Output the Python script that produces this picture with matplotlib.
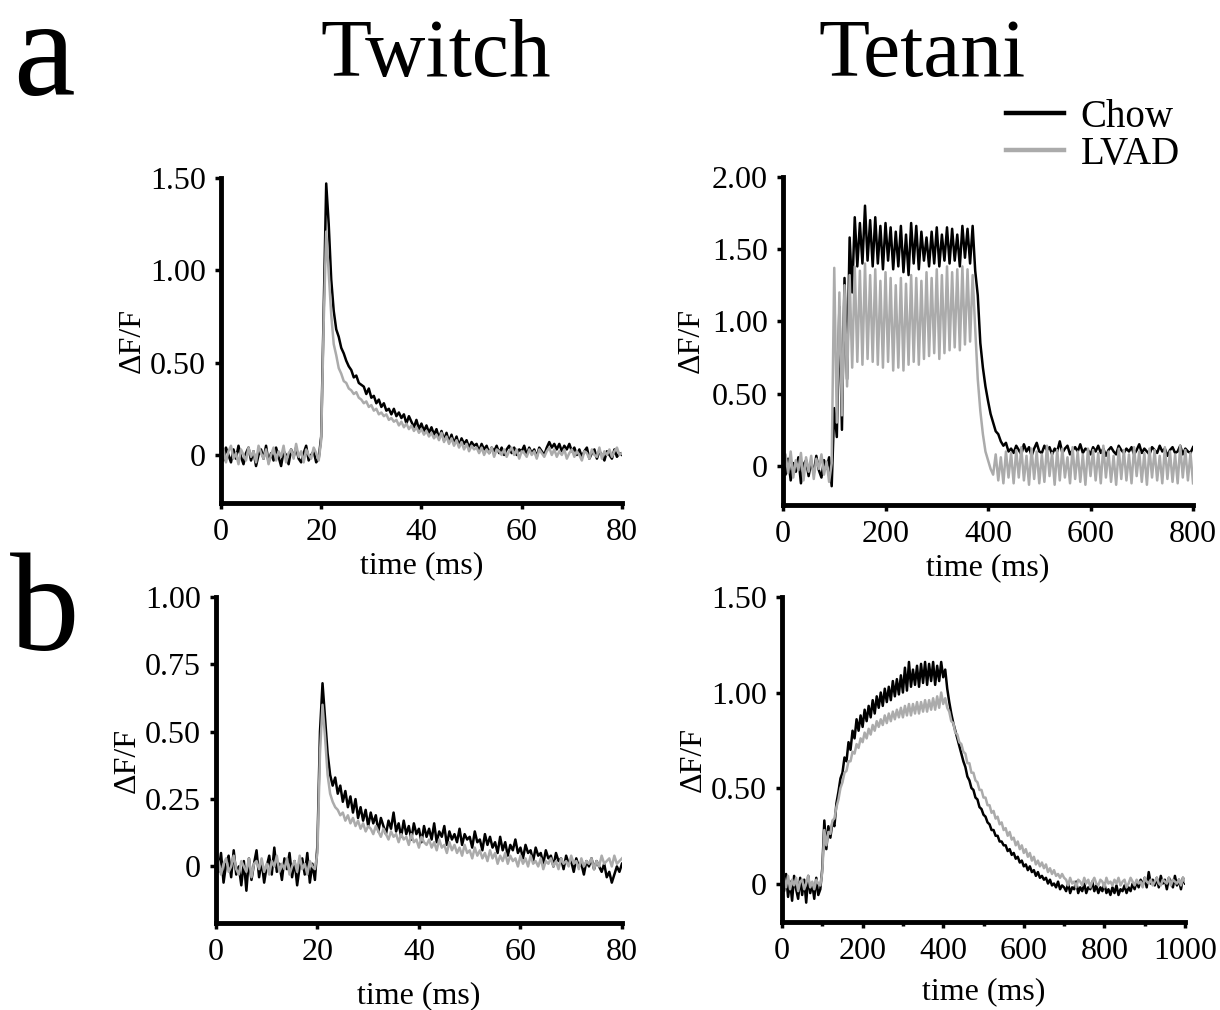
import numpy as np
import matplotlib
matplotlib.use("Agg")
import matplotlib.pyplot as plt
from matplotlib.ticker import FuncFormatter

plt.rcParams['font.family'] = ['Liberation Serif', 'DejaVu Serif']

# ---- data (dF/F in hundredths) ----
# twitch traces, sampled every 0.5 ms from 0 to 80 ms
twitch_a_chow = np.array([
    2, -3, 4, 0, -4, 3, -2, 5, -1, -5, 1, 4, -3, 2, -6, 0, 3, -2, 5, -4,
    1, -3, 4, -1, -6, 2, 0, -5, 3, -1, 4, -2, -4, 1, 5, -3, 0, 2, -4, -2,
    10, 80, 147, 125,
    95, 78, 68, 64, 58, 55, 51, 48, 46, 42,
    43, 39, 38, 37, 33, 36, 31, 32, 28, 30,
    26, 28, 24, 25, 22, 25, 21, 23, 20, 22,
    17, 21, 18, 15, 19, 14, 17, 13, 16, 12,
    15, 11, 14, 9, 13, 8, 12, 7, 11, 6,
    10, 5, 9, 6, 8, 4, 7, 5, 6, 2,
    6, 3, 5, 1, 4, 2, 5, 1, 4, 0,
    3, 5, 1, 4, 0, 3, 2, 5, 0, 4,
    1, 3, -1, 4, 2, 0, 4, 7, 4, 6,
    3, 6, 2, 5, 3, 6, 2, 4, 0, 3,
    -1, 2, 4, -2, 1, 3, -2, 2, 0, -3,
    2, 0, -2, 3, -1, 1, 0]) / 100
twitch_a_lvad = np.array([
    -1, 3, -4, 2, 5, -2, 1, -5, 3, 0, -3, 4, -1, 2, -4, 5, 1, -2, 3, -5,
    0, 4, -3, 2, -1, 5, -4, 1, 3, -2, 6, -1, 2, -4, 3, 0, -2, 4, 1, -3,
    8, 72, 121, 98,
    76, 60, 54, 47, 44, 40, 39, 36, 35, 33,
    34, 31, 30, 28, 29, 26, 27, 24, 25, 22,
    23, 21, 22, 19, 20, 18, 19, 16, 18, 15,
    17, 14, 16, 13, 15, 12, 14, 11, 13, 10,
    12, 9, 11, 8, 12, 7, 10, 6, 9, 5,
    8, 4, 7, 3, 6, 2, 5, 3, 4, 1,
    4, 0, 3, 1, 4, -1, 3, 2, 0, 3,
    -1, 2, 4, 0, 3, -2, 2, 1, -1, 3,
    0, 2, -2, 3, 1, -1, 2, 4, 0, 3,
    -1, 2, 0, 3, -2, 1, 3, -1, 2, 0,
    -3, 2, 1, -2, 3, 0, -1, 4, -2, 2,
    0, 3, -1, 2, 4, 0, 1]) / 100
twitch_b_chow = np.array([
    3, -2, 5, -6, 1, 4, -4, 6, -3, 0, -7, 2, -9, 3, -5, 1, 6, -4, 2, -6,
    0, 4, -3, 7, -2, 1, -5, 3, -1, 5, -4, 2, -7, 0, 3, -3, 5, -6, 1, -5,
    8, 50, 68, 55,
    42, 34, 30, 33, 27, 30, 24, 28, 22, 26,
    20, 25, 18, 22, 17, 21, 15, 20, 16, 19,
    13, 18, 15, 12, 17, 14, 20, 13, 16, 11,
    17, 12, 15, 10, 16, 12, 14, 9, 15, 11,
    14, 10, 16, 9, 13, 11, 15, 8, 13, 10,
    12, 9, 14, 8, 12, 10, 11, 7, 13, 9,
    10, 6, 12, 8, 11, 7, 9, 5, 11, 6,
    9, 4, 8, 6, 10, 5, 7, 3, 8, 5,
    6, 2, 7, 4, 5, 1, 6, 3, 4, 0,
    5, 2, 3, -1, 4, 1, 2, -2, 3, 0,
    1, -3, 2, 0, 3, -1, 2, 0, -2, 1,
    -4, -2, -6, -3, 0, -2, 1]) / 100
twitch_b_lvad = np.array([
    0, 2, -3, 1, 3, -2, 0, 4, -1, -3, 2, 0, -2, 3, -4, 1, 2, -1, 3, -2,
    1, -3, 2, 0, 4, -2, 1, -1, 3, -3, 0, 2, -2, 4, -1, 1, -3, 2, 0, -1,
    5, 42, 60, 48,
    34, 27, 24, 22, 21, 19, 20, 17, 19, 16,
    18, 15, 17, 14, 16, 13, 15, 14, 12, 15,
    13, 11, 14, 12, 10, 13, 11, 12, 9, 12,
    10, 11, 8, 12, 9, 10, 7, 11, 9, 8,
    10, 7, 9, 6, 10, 7, 8, 5, 9, 6,
    8, 5, 7, 4, 8, 5, 6, 3, 7, 4,
    6, 3, 5, 2, 6, 3, 5, 1, 4, 2,
    5, 1, 4, 2, 3, 0, 4, 1, 3, 0,
    4, 1, 2, 0, 3, -1, 2, 1, 3, 0,
    2, -1, 3, 1, 2, 0, 4, 1, 2, -1,
    3, 0, 2, 1, 3, -1, 2, 0, 4, 1,
    2, 3, 0, 4, 1, 2, 3]) / 100

# tetani traces, sampled every 5 ms
tetani_a_chow = np.array([
    3, -6, 5, -10, 2, -4, 6, -12, 1, 4, -7, 3, -5, 7, -3, -8, 4, -2, 6, -14,
    40, 20, 110, 25, 130, 60, 158, 120, 172, 138, 168, 140, 180, 142, 170, 138, 172, 140, 166, 136,
    168, 142, 165, 136, 162, 138, 166, 134, 160, 132, 168, 140, 166, 136, 162, 142, 158, 138, 162, 140,
    165, 138, 160, 142, 165, 140, 164, 142, 160, 138, 166, 144, 164, 140, 166, 135, 118, 85, 68, 55,
    45, 36, 30, 24, 22, 17, 14, 16, 10,
    12, 9, 14, 11, 8, 15, 10, 13, 7, 12, 16, 10, 9, 14, 11, 13, 8, 12, 10, 17,
    9, 12, 14, 8, 11, 13, 10, 15, 9, 12, 11, 8, 13, 10, 14, 9, 12, 7, 11, 13,
    10, 8, 14, 11, 9, 12, 10, 13, 8, 11, 15, 9, 12, 10, 8, 13, 11, 9, 14, 10,
    12, 7, 11, 13, 9, 10, 14, 8, 12, 10, 9, 13]) / 100
tetani_a_lvad = np.array([
    -2, 8, -5, 10, -8, 4, -3, 9, -10, 6, -4, 7, -9, 5, -2, 8, -6, 3, -11, 2,
    137, 30, 120, 35, 125, 55, 132, 68, 138, 72, 135, 70, 140, 74, 132, 72, 136, 70, 128, 68,
    134, 72, 130, 66, 125, 68, 130, 66, 126, 70, 132, 72, 130, 70, 128, 74, 134, 76, 130, 78,
    136, 74, 132, 78, 138, 80, 134, 82, 136, 80, 138, 84, 136, 86, 132, 95, 60, 38, 22, 10,
    4, -2, -6, 8, -10, 6, -12, 10, -8,
    9, -12, 11, -8, 13, -10, 7, -13, 12, -9, 10, -12, 8, -11, 14, -7, 9, -13, 11, -10,
    12, -8, 6, -12, 13, -9, 10, -11, 8, -13, 12, -7, 11, -10, 9, -12, 14, -8, 10, -11,
    7, -13, 12, -9, 11, -10, 8, -12, 13, -7, 10, -11, 9, -13, 12, -8, 11, -10, 7, -12,
    13, -9, 10, -11, 8, -12, 14, -8, 11, -10, 9, -12]) / 100
tetani_b_chow = np.array([
    2, -4, 5, -7, 1, -9, 4, -3, -8, 3,
    -6, 2, -10, 4, -5, 0, -8, 3, -6, -3,
    8, 33, 18, 30, 24, 32, 30, 42, 48, 55,
    58, 66, 64, 74, 70, 80, 76, 86, 80, 88,
    82, 91, 85, 93, 87, 96, 89, 98, 92, 100,
    93, 102, 95, 103, 96, 106, 98, 107, 99, 109,
    100, 113, 101, 116, 103, 112, 104, 114, 103, 115,
    105, 116, 104, 115, 106, 116, 104, 114, 106, 116,
    108, 112, 102, 95, 89, 84, 80, 76, 72, 68,
    64, 61, 56, 54, 50, 49, 45, 44, 40, 39,
    36, 35, 32, 31, 28, 28, 25, 25, 22, 22,
    20, 20, 17, 18, 15, 16, 13, 14, 11, 12,
    9, 10, 7, 9, 6, 7, 4, 6, 3, 4,
    2, 3, 0, 2, -1, 0, -2, 1, -3, -1,
    -2, -4, 0, -5, -2, -3, 1, -5, -2, -4,
    0, -5, -2, -3, 1, -4, -1, -5, -2, -4,
    0, -5, -3, -6, -2, -5, -1, -6, -3, -4,
    -1, -5, -2, -4, 0, -3, 1, -2, 2, -1,
    3, -2, 6, 0, 2, -1, 3, -2, 4, 0,
    2, -3, 3, 1, -2, 4, -1, 2, -3, 3,
    0]) / 100
tetani_b_lvad = np.array([
    0, 3, -2, 4, -3, 2, -1, 3, -4, 1,
    2, -3, 0, 4, -2, 1, -3, 2, 0, -1,
    6, 28, 20, 27, 26, 33, 34, 40, 44, 50,
    53, 58, 59, 64, 64, 69, 68, 73, 71, 76,
    74, 79, 76, 81, 78, 83, 80, 85, 82, 86,
    83, 88, 84, 89, 85, 90, 86, 91, 87, 92,
    87, 93, 88, 94, 88, 94, 89, 95, 89, 95,
    90, 96, 90, 96, 91, 97, 91, 98, 92, 100,
    94, 97, 92, 90, 85, 84, 79, 78, 74, 73,
    69, 68, 63, 63, 58, 58, 54, 53, 49, 49,
    45, 45, 41, 41, 37, 38, 34, 35, 31, 32,
    28, 29, 25, 27, 23, 24, 20, 22, 18, 20,
    16, 18, 14, 16, 12, 14, 10, 12, 9, 11,
    8, 10, 6, 8, 5, 7, 4, 5, 3, 5,
    3,
    2, -1, 3, 0, 1, -2, 2, 1, -1, 3,
    0, 2, -2, 1, 3, 0, -1, 2, 1, -2,
    3, 0, 1, -1, 2, 0, 3, -1, 1, 2,
    -2, 0, 3, 1, -1, 2, 0, 1, -2, 3,
    1, 0, 2, -1, 1, 3, 0, -1, 2, 1,
    0, 3, -1, 2, 1, 0, 2, -1, 3, 1]) / 100

twitch_ms = 80
tetani_a_ms = 800
tetani_b_ms = 1000

twitch_a_yticks = [0, 0.5, 1.0, 1.5]
tetani_a_yticks = [0, 0.5, 1.0, 1.5, 2.0]
twitch_b_yticks = [0, 0.25, 0.5, 0.75, 1.0]
tetani_b_yticks = [0, 0.5, 1.0, 1.5]
twitch_xticks = [0, 20, 40, 60, 80]
tetani_a_xticks = [0, 200, 400, 600, 800]
tetani_b_xticks = [0, 200, 400, 600, 800, 1000]
tetani_b_xminor = [100, 300, 500, 700, 900]

BLACK = '#000000'
GRAY = '#ababab'
FS = 23

fig = plt.figure(figsize=(12.2, 10.1), dpi=100)


def fmt(v, pos):
    return '0' if v == 0 else '%.2f' % v


def panel(rect, chow, lvad, dur, xticks, yticks, ylim, ylabelpad, xlabelpad):
    ax = fig.add_axes(rect)
    ax.plot(np.linspace(0, dur, len(chow)), chow, color=BLACK, lw=1.8, label='Chow')
    ax.plot(np.linspace(0, dur, len(lvad)), lvad, color=GRAY, lw=1.8, label='LVAD')
    ax.set_xlim(0, dur)
    ax.set_ylim(*ylim)
    ax.set_xticks(xticks)
    ax.set_yticks(yticks)
    ax.yaxis.set_major_formatter(FuncFormatter(fmt))
    for s in ['top', 'right']:
        ax.spines[s].set_visible(False)
    for s in ['left', 'bottom']:
        ax.spines[s].set_linewidth(3.5)
    ax.tick_params(direction='out', length=4, width=2.5, labelsize=FS, pad=7)
    ax.set_xlabel('time (ms)', fontsize=FS, labelpad=xlabelpad)
    ax.set_ylabel('ΔF/F', fontsize=FS, labelpad=ylabelpad)
    return ax


ax1 = panel([0.1811, 0.502, 0.3287, 0.3218], twitch_a_chow, twitch_a_lvad, twitch_ms,
            twitch_xticks, twitch_a_yticks, (-0.26, 1.5), 2, 3)
ax2 = panel([0.6418, 0.500, 0.3361, 0.3250], tetani_a_chow, tetani_a_lvad, tetani_a_ms,
            tetani_a_xticks, tetani_a_yticks, (-0.27, 2.0), 4, 3)
ax3 = panel([0.1770, 0.0861, 0.3328, 0.3228], twitch_b_chow, twitch_b_lvad, twitch_ms,
            twitch_xticks, twitch_b_yticks, (-0.21, 1.0), 2, 10)
ax4 = panel([0.6410, 0.0874, 0.3303, 0.3215], tetani_b_chow, tetani_b_lvad, tetani_b_ms,
            tetani_b_xticks, tetani_b_yticks, (-0.2, 1.5), 2, 8)
ax4.set_xticks(tetani_b_xminor, minor=True)
ax4.tick_params(which='minor', direction='out', length=3, width=2.5)

leg = ax2.legend(loc='lower right', bbox_to_anchor=(0.968, 1.012), frameon=False,
                 fontsize=28, handlelength=1.5, handletextpad=0.42, labelspacing=0.0,
                 borderpad=0, borderaxespad=0)
for h in leg.legend_handles:
    h.set_linewidth(3.2)

fig.text(0.357, 1 - 76 / 1010, 'Twitch', fontsize=60, ha='center', va='baseline')
fig.text(0.756, 1 - 76 / 1010, 'Tetani', fontsize=60, ha='center', va='baseline')
fig.text(0.011, 1 - 95 / 1010, 'a', fontsize=100, ha='left', va='baseline')
fig.text(0.008, 1 - 650 / 1010, 'b', fontsize=100, ha='left', va='baseline')

fig.savefig('out.png', dpi=100)
